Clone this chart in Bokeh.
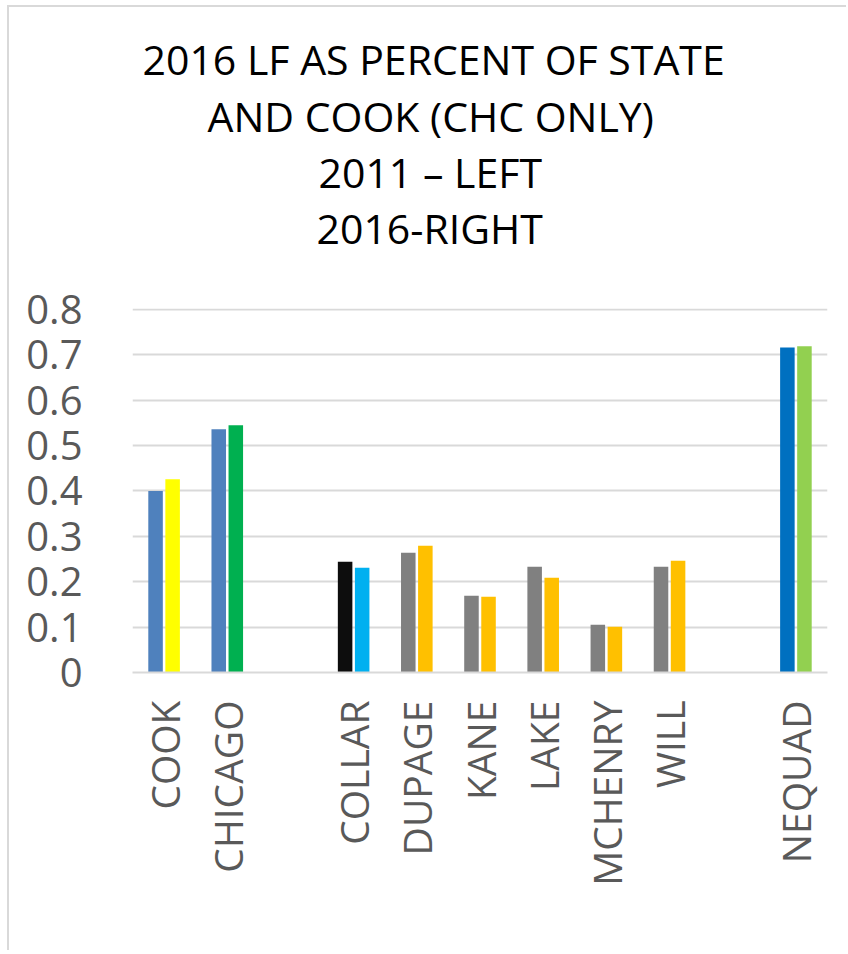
from bokeh.plotting import figure
from bokeh.models import ColumnDataSource, FactorRange, Range1d, Title, FixedTicker, NumeralTickFormatter
from bokeh.transform import dodge
from bokeh.embed import file_html
from bokeh.resources import INLINE

# ---- data ----
categories = ["COOK", "CHICAGO", " ", "COLLAR", "DUPAGE", "KANE", "LAKE", "MCHENRY", "WILL", "  ", "NEQUAD"]
bar_categories = ["COOK", "CHICAGO", "COLLAR", "DUPAGE", "KANE", "LAKE", "MCHENRY", "WILL", "NEQUAD"]
values_2011 = [0.400, 0.536, 0.244, 0.264, 0.169, 0.233, 0.105, 0.233, 0.716]
values_2016 = [0.426, 0.545, 0.231, 0.279, 0.167, 0.209, 0.101, 0.246, 0.719]
y_ticks = [0, 0.1, 0.2, 0.3, 0.4, 0.5, 0.6, 0.7, 0.8]
title_lines = ["2016 LF AS PERCENT OF STATE", "AND COOK (CHC ONLY)", "2011 \u2013 LEFT", "2016-RIGHT"]

# ---- styles ----
colors_2011 = ["#4F81BD", "#4F81BD", "#0D0D0D", "#808080", "#808080", "#808080", "#808080", "#808080", "#0070C0"]
colors_2016 = ["#FFFF00", "#00B050", "#00B0F0", "#FFC000", "#FFC000", "#FFC000", "#FFC000", "#FFC000", "#92D050"]
title_offsets = [10, 75, 186, 184]
title_standoffs = [-1, -2, -2, -2]

src = ColumnDataSource(dict(cat=bar_categories, v11=values_2011, v16=values_2016,
                            c11=colors_2011, c16=colors_2016))

p = figure(width=839, height=945, x_range=FactorRange(factors=categories, range_padding=0),
           y_range=Range1d(0, 0.802), output_backend="svg", toolbar_location=None,
           min_border_left=123, min_border_right=21, min_border_bottom=280, min_border_top=301)
p.title = None
p.styles = {"margin-left": "7px", "margin-top": "5px",
            "border-left": "2px solid #D9D9D9", "border-top": "2px solid #D9D9D9"}

# spacer between the title block and the plot frame
p.add_layout(Title(text=" ", text_font="Open Sans", text_font_size="38px", standoff=0), "above")
for line, off, so in reversed(list(zip(title_lines, title_offsets, title_standoffs))):
    p.add_layout(Title(text=line, align="left", offset=off, standoff=so,
                       text_font="Open Sans", text_font_size="41px",
                       text_font_style="normal", text_color="#000000"), "above")

p.vbar(x=dodge("cat", -0.135, range=p.x_range), top="v11", width=0.23, fill_color="c11",
       line_color=None, source=src)
p.vbar(x=dodge("cat", 0.135, range=p.x_range), top="v16", width=0.23, fill_color="c16",
       line_color=None, source=src)

p.outline_line_color = None
p.xgrid.grid_line_color = None
p.ygrid.grid_line_color = "#D9D9D9"
p.ygrid.grid_line_width = 2
p.yaxis.ticker = FixedTicker(ticks=y_ticks)
p.yaxis.formatter = NumeralTickFormatter(format="0.[0]")
p.yaxis.axis_line_color = None
p.yaxis.major_tick_line_color = None
p.yaxis.minor_tick_line_color = None
p.yaxis.major_label_text_font = "Open Sans"
p.yaxis.major_label_text_font_size = "40px"
p.yaxis.major_label_text_color = "#595959"
p.yaxis.major_label_standoff = 44

p.xaxis.axis_line_color = "#D9D9D9"
p.xaxis.axis_line_width = 2
p.xaxis.major_tick_line_color = None
p.xaxis.minor_tick_line_color = None
p.xaxis.major_label_orientation = 3.14159265 / 2
p.xaxis.major_label_text_font = "Open Sans"
p.xaxis.major_label_text_font_size = "39px"
p.xaxis.major_label_text_color = "#595959"
p.xaxis.major_label_standoff = 22

open("out.html", "w").write(file_html(p, INLINE))
